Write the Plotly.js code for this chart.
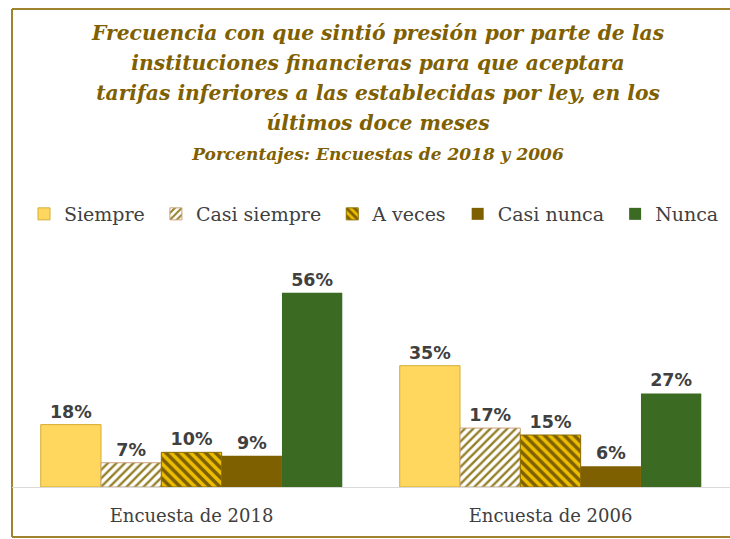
<!DOCTYPE html>
<html>
<head>
<meta charset="utf-8">
<script src="https://cdn.plot.ly/plotly-3.0.1.min.js"></script>
<style>html,body{margin:0;padding:0;background:#fff;}#chart{width:730px;height:539px;}</style>
</head>
<body>
<div id="chart"></div>
<script>
const categories = ["Encuesta de 2018", "Encuesta de 2006"];
const seriesNames = ["Siempre", "Casi siempre", "A veces", "Casi nunca", "Nunca"];
const siempre = [18, 35];
const casiSiempre = [7, 17];
const aVeces = [10, 15];
const casiNunca = [9, 6];
const nunca = [56, 27];

const labelFont = {family: "DejaVu Sans", size: 17.5, color: "#404040"};

function bar(name, vals, marker) {
  return {
    type: "bar", name: name + "\u00A0", x: categories, y: vals,
    marker: marker,
    texttemplate: "<b>%{y}%</b>", textposition: "outside", cliponaxis: false,
    textfont: labelFont, hoverinfo: "skip"
  };
}

const data = [
  bar(seriesNames[0], siempre, {color: "#FFD75E", line: {color: "#D4AE35", width: 1}}),
  bar(seriesNames[1], casiSiempre, {color: "#FFFFFF", line: {color: "#C9A27A", width: 1},
      pattern: {shape: "/", bgcolor: "#FFFFFF", fgcolor: "#948028", size: 6, solidity: 0.4}}),
  bar(seriesNames[2], aVeces, {color: "#E6B800", line: {color: "#8C6D00", width: 1},
      pattern: {shape: "\\", bgcolor: "#EDBE00", fgcolor: "#7F6000", size: 7, solidity: 0.5}}),
  bar(seriesNames[3], casiNunca, {color: "#7F6000"}),
  bar(seriesNames[4], nunca, {color: "#3B6A23"})
];

const plotTop = 279, plotBottom = 487, plotH = plotBottom - plotTop;
const borderColor = "#A0832E";
const yTop = (plotBottom - 9)/plotH, yBot = (plotBottom - 537)/plotH;

const layout = {
  width: 730, height: 539,
  margin: {l: 12, r: 0, t: plotTop, b: 539 - plotBottom},
  paper_bgcolor: "#FFFFFF", plot_bgcolor: "#FFFFFF",
  barmode: "group", bargap: 0.16, bargroupgap: 0,
  title: {
    text: "<b><i><span style='font-size:20.3px'>Frecuencia con que sintió presión por parte de las<br>instituciones financieras para que aceptara<br>tarifas inferiores a las establecidas por ley, en los<br>últimos doce meses</span><br><span style='font-size:17px'>Porcentajes: Encuestas de 2018 y 2006</span></i></b>",
    font: {family: "DejaVu Serif", size: 23, color: "#7F6000"},
    x: 378/730, xref: "container", xanchor: "center",
    y: 1 - 40/539, yref: "container", yanchor: "top"
  },
  showlegend: true,
  legend: {
    orientation: "h", x: 14/718, xanchor: "left",
    y: (plotBottom - 214)/plotH, yanchor: "middle",
    font: {family: "DejaVu Serif", size: 19, color: "#404040"},
    traceorder: "normal", bgcolor: "rgba(0,0,0,0)"
  },
  xaxis: {
    type: "category", range: [-0.5, 1.5],
    showline: true, linecolor: "#D9D9D9", linewidth: 1,
    ticks: "", showgrid: false, ticklabelstandoff: 12,
    tickfont: {family: "DejaVu Serif", size: 18, color: "#404040"}
  },
  yaxis: {range: [0, 60], visible: false, showgrid: false, zeroline: false},
  shapes: [
    {type: "line", xref: "paper", yref: "paper", x0: 0, x1: 1.1, y0: yTop, y1: yTop,
     line: {color: borderColor, width: 2}, layer: "below"},
    {type: "line", xref: "paper", yref: "paper", x0: 0, x1: 0, y0: yBot, y1: yTop,
     line: {color: borderColor, width: 2}, layer: "below"},
    {type: "line", xref: "paper", yref: "paper", x0: 0, x1: 1.1, y0: yBot, y1: yBot,
     line: {color: borderColor, width: 2}, layer: "below"}
  ]
};

Plotly.newPlot("chart", data, layout, {displayModeBar: false, staticPlot: true});
</script>
</body>
</html>
